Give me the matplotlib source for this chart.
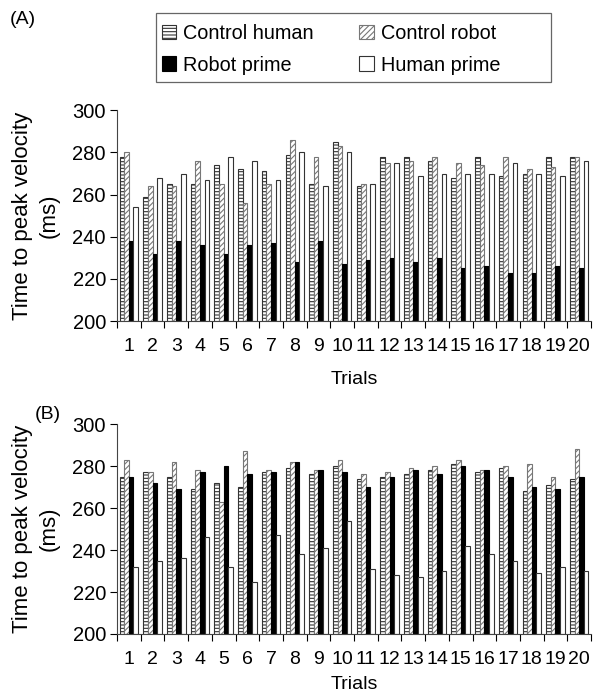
import matplotlib
matplotlib.use("Agg")
import matplotlib.pyplot as plt
from matplotlib.patches import Patch, Rectangle
import numpy as np

plt.rcParams['font.family'] = ['Liberation Sans', 'DejaVu Sans']
plt.rcParams['hatch.linewidth'] = 0.8

trials = [str(i) for i in range(1, 21)]
series_names = ["Control human", "Control robot", "Robot prime", "Human prime"]

# Panel A
a_control_human = [278, 259, 265, 265, 274, 272, 271, 279, 265, 285, 264, 278, 278, 276, 268, 278, 269, 270, 278, 278]
a_control_robot = [280, 264, 264, 276, 265, 256, 265, 286, 278, 283, 265, 275, 276, 278, 275, 274, 278, 272, 273, 278]
a_robot_prime   = [238, 232, 238, 236, 232, 236, 237, 228, 238, 227, 229, 230, 228, 230, 225, 226, 223, 223, 226, 225]
a_human_prime   = [254, 268, 270, 267, 278, 276, 267, 280, 264, 280, 265, 275, 269, 270, 270, 270, 275, 270, 269, 276]

# Panel B
b_control_human = [275, 277, 275, 269, 272, 270, 277, 279, 276, 280, 274, 275, 276, 278, 281, 277, 279, 268, 271, 274]
b_control_robot = [283, 277, 282, 278, 263, 287, 278, 282, 278, 283, 276, 277, 279, 280, 283, 278, 280, 281, 275, 288]
b_robot_prime   = [275, 272, 269, 277, 280, 276, 277, 282, 278, 277, 270, 275, 278, 276, 280, 278, 275, 270, 269, 275]
b_human_prime   = [232, 235, 236, 246, 232, 225, 247, 238, 241, 254, 231, 228, 227, 230, 242, 238, 235, 229, 232, 230]

styles = [
    dict(facecolor='white', hatch='-----', edgecolor='#333333'),
    dict(facecolor='white', hatch='//////', edgecolor='#777777'),
    dict(facecolor='black', hatch=None, edgecolor='black'),
    dict(facecolor='white', hatch=None, edgecolor='#333333'),
]

fig = plt.figure(figsize=(5.94, 6.98), dpi=100)
axA = fig.add_axes([0.197, 0.540, 0.798, 0.302])
axB = fig.add_axes([0.197, 0.0917, 0.798, 0.3008])

x = np.arange(1, 21)
w = 0.195
offsets = [-1.5 * w, -0.5 * w, 0.5 * w, 1.5 * w]

def draw(ax, data, xlabelpad):
    for vals, off, st in zip(data, offsets, styles):
        ax.bar(x + off, np.array(vals) - 200, bottom=200, width=w,
               facecolor=st['facecolor'], hatch=st['hatch'],
               edgecolor=st['edgecolor'], linewidth=0.8)
    ax.set_xlim(0.5, 20.5)
    ax.set_ylim(200, 300)
    ax.set_yticks([200, 220, 240, 260, 280, 300])
    ax.tick_params(axis='y', labelsize=14.5, length=5, direction='out', width=0.8, pad=3)
    ax.set_xticks(x)
    ax.set_xticklabels(trials)
    ax.tick_params(axis='x', which='major', length=0, labelsize=14, pad=12)
    ax.set_xticks(np.arange(0.5, 21.0, 1.0), minor=True)
    ax.tick_params(axis='x', which='minor', length=5, direction='out', width=0.8)
    for s in ['top', 'right']:
        ax.spines[s].set_visible(False)
    for s in ['left', 'bottom']:
        ax.spines[s].set_color('#444444')
        ax.spines[s].set_linewidth(0.8)
    ax.set_xlabel('Trials', fontsize=14, labelpad=xlabelpad)
    ax.set_ylabel('Time to peak velocity\n(ms)', fontsize=16, labelpad=9, linespacing=1.35)

draw(axA, [a_control_human, a_control_robot, a_robot_prime, a_human_prime], 12)
draw(axB, [b_control_human, b_control_robot, b_robot_prime, b_human_prime], 6)

fig.text(0.017, 0.972, '(A)', fontsize=14, va='center')
fig.text(0.058, 0.406, '(B)', fontsize=14, va='center')

handles = [Patch(facecolor=st['facecolor'], hatch=st['hatch'],
                 edgecolor=st['edgecolor'], linewidth=0.8) for st in styles]
order = [0, 2, 1, 3]
leg = fig.legend([handles[i] for i in order], [series_names[i] for i in order],
                 ncol=2, loc='upper left',
                 bbox_to_anchor=(0.272, 0.966),
                 borderaxespad=0.0, borderpad=0.0,
                 fontsize=14.3, frameon=False,
                 handlelength=0.75, handleheight=0.75, handletextpad=0.35,
                 columnspacing=2.25, labelspacing=0.65)

# legend frame box
fig.patches.append(Rectangle((0.2626, 0.883), 0.665, 0.0989,
                             transform=fig.transFigure, fill=False,
                             edgecolor='#666666', linewidth=0.9))

fig.savefig('out.png', dpi=100)
